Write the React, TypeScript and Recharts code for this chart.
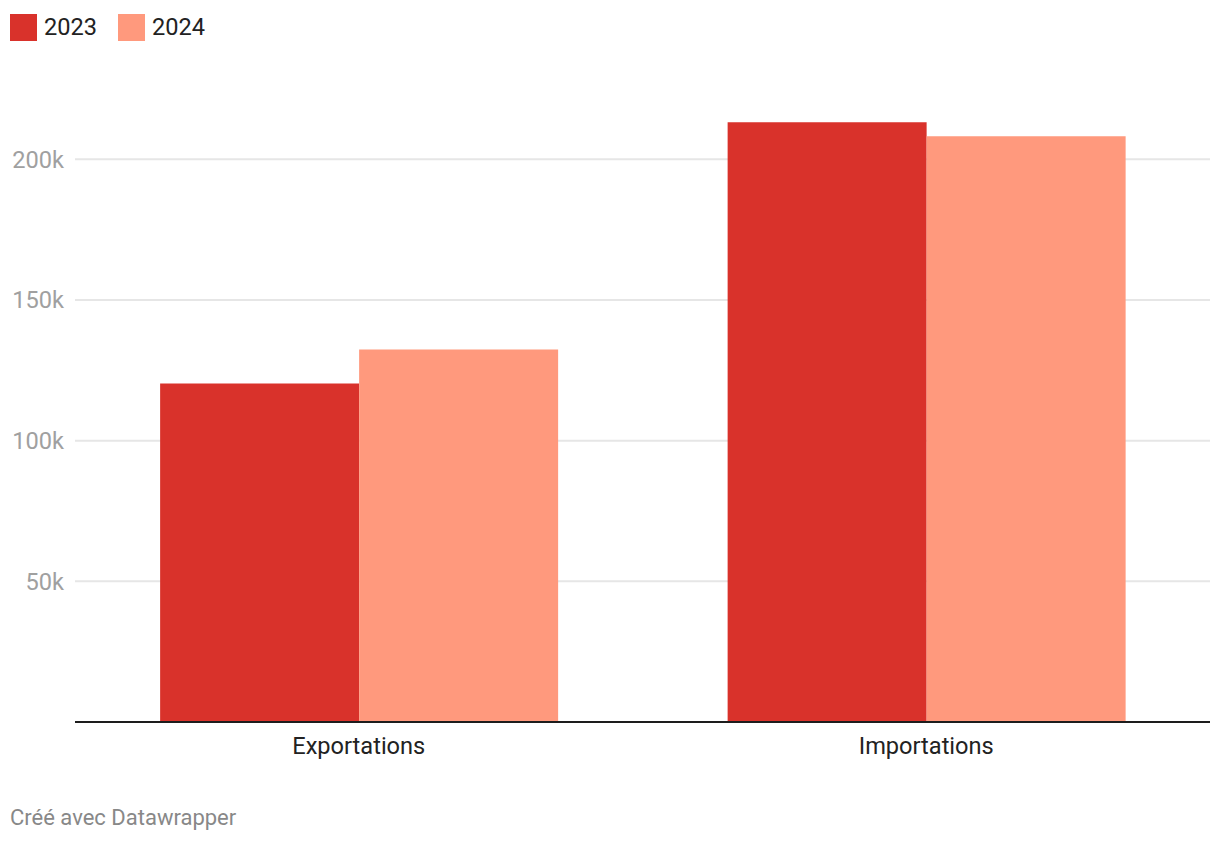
import React from 'react';
import { BarChart, Bar, XAxis, YAxis, CartesianGrid } from 'recharts';

const categories = ['Exportations', 'Importations'];
const values2023 = [120300, 213200];
const values2024 = [132400, 208200];
const yTicks = [50000, 100000, 150000, 200000];
const seriesNames = ['2023', '2024'];
const seriesKeys = ['y2023', 'y2024'];
const seriesColors = ['#d9322b', '#ff997d'];
const footerText = 'Créé avec Datawrapper';

const data = categories.map((c, i) => ({ name: c, y2023: values2023[i], y2024: values2024[i] }));

const FONT = 'Roboto, "Noto Sans", sans-serif';

export default function App() {
  return (
    <div style={{ position: 'absolute', left: 0, top: 0, width: 1220, height: 844, background: '#fff', fontFamily: FONT }}>
      <div style={{ position: 'absolute', left: 10, top: 14, display: 'flex', alignItems: 'center', height: 27 }}>
        {seriesNames.map((n, i) => (
          <div key={n} style={{ display: 'flex', alignItems: 'center', marginRight: 21 }}>
            <div style={{ width: 27, height: 27, background: seriesColors[i], marginRight: 7 }} />
            <span style={{ fontSize: 23.6, color: '#222', lineHeight: '27px' }}>{n}</span>
          </div>
        ))}
      </div>
      <BarChart
        width={1220}
        height={844}
        data={data}
        margin={{ top: 103, right: 10, bottom: 82, left: 0 }}
        barCategoryGap="15%"
        barGap={0}
      >
        <CartesianGrid vertical={false} stroke="#e6e6e6" strokeWidth={2} syncWithTicks />
        <YAxis
          domain={[0, 220000]}
          ticks={yTicks}
          width={75}
          axisLine={false}
          tickLine={false}
          tickSize={0}
          tickMargin={11}
          tickFormatter={(v: number) => `${v / 1000}k`}
          tick={{ fill: '#a0a0a0', fontSize: 23.6, fontFamily: FONT }}
        />
        <XAxis
          dataKey="name"
          height={40}
          tickLine={false}
          tickSize={0}
          tickMargin={15}
          axisLine={{ stroke: '#1d1d1d', strokeWidth: 2 }}
          tick={{ fill: '#222', fontSize: 23.6, fontFamily: FONT }}
        />
        {seriesKeys.map((k, i) => (
          <Bar key={k} dataKey={k} name={seriesNames[i]} fill={seriesColors[i]} isAnimationActive={false} />
        ))}
      </BarChart>
      <div style={{ position: 'absolute', left: 10, top: 805, fontSize: 22, color: '#888' }}>{footerText}</div>
    </div>
  );
}
